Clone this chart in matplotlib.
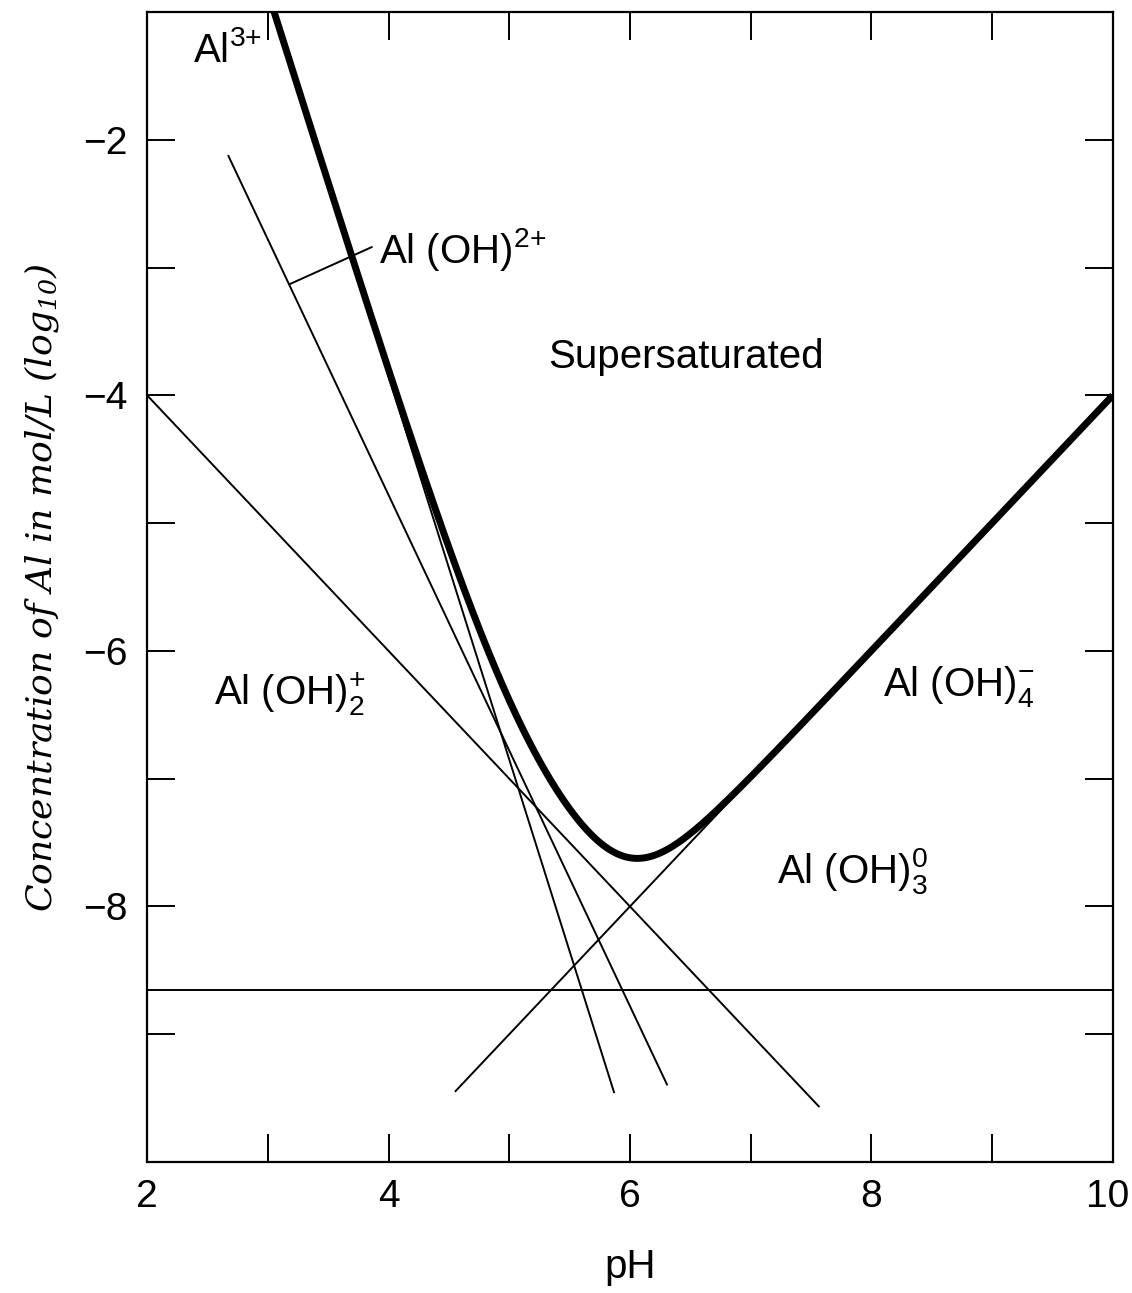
import matplotlib
matplotlib.use("Agg")
import matplotlib.pyplot as plt
import matplotlib.transforms as mtransforms
from matplotlib.ticker import FixedLocator, FuncFormatter
import numpy as np

plt.rcParams.update({
    "font.family": ["Liberation Sans", "DejaVu Sans"],
    "mathtext.default": "regular",
    "axes.linewidth": 1.6,
})

# species lines: log10[species] = slope * pH + intercept
species = ["Al3+", "Al(OH)2+", "Al(OH)2 +", "Al(OH)3 0", "Al(OH)4-"]
slopes = [-3.0, -2.0, -1.0, 0.0, 1.0]
intercepts = [8.15, 3.22, -2.0, -8.65, -14.0]
ph_start = [2.95, 2.67, 2.0, 2.0, 4.55]
ph_end = [5.87, 6.31, 7.57, 10.0, 10.0]

# labels of the regions
label_text = [r"Al$^{3{+}}$", r"Al (OH)$^{2{+}}$", "Supersaturated",
              r"Al (OH)$_2^{+}$", r"Al (OH)$_4^{-}$", r"Al (OH)$_3^0$"]
label_x = [2.38, 3.92, 5.32, 2.55, 8.1, 7.22]
label_y = [-1.3, -2.86, -3.7, -6.34, -6.28, -7.72]

x_ticks = list(range(2, 11))
y_ticks = list(range(-10, 0))

fig = plt.figure(figsize=(11.32, 12.93), dpi=100)
ax = fig.add_axes([0.130, 0.1013, 0.853, 0.8894])
ax.set_xlim(2, 10)
ax.set_ylim(-10, -1)

# thin species lines
for s, b, x0, x1 in zip(slopes, intercepts, ph_start, ph_end):
    xs = np.array([x0, x1])
    ax.plot(xs, s * xs + b, color="black", lw=1.4, solid_capstyle="butt")

# total dissolved Al = sum of all species (thick curve)
ph = np.linspace(2.9, 10.0, 900)
total = np.zeros_like(ph)
for s, b in zip(slopes, intercepts):
    total += 10.0 ** (s * ph + b)
ax.plot(ph, np.log10(total), color="black", lw=5.0, solid_capstyle="butt")

# leader line to the Al(OH)2+ label
ax.plot([3.18, 3.86], [-3.13, -2.84], color="black", lw=1.4)

for t, x, y in zip(label_text, label_x, label_y):
    ax.text(x, y, t, fontsize=29, ha="left", va="center", color="black")

ax.xaxis.set_major_locator(FixedLocator(x_ticks))
ax.yaxis.set_major_locator(FixedLocator(y_ticks))
ax.xaxis.set_major_formatter(FuncFormatter(lambda v, p: f"{int(v)}" if int(v) % 2 == 0 else ""))
ax.yaxis.set_major_formatter(FuncFormatter(
    lambda v, p: f"\u2212{abs(int(v))}" if int(v) % 2 == 0 and -10 < v < -1 else ""))
ax.tick_params(direction="in", length=20, width=1.4, top=True, right=True,
               labelsize=28, pad=12)
ax.tick_params(axis="y", pad=14)

# keep "10" inside the figure
lab = ax.xaxis.get_major_ticks()[-1].label1
lab.set_transform(lab.get_transform() +
                  mtransforms.ScaledTranslation(-4 / 72, 0, fig.dpi_scale_trans))

ax.set_xlabel("pH", fontsize=29, labelpad=24)
ax.set_ylabel(r"Concentration of Al in mol/L (log$_{10}$)", fontsize=26,
              family="DejaVu Serif", style="italic", labelpad=16)

fig.savefig("out.png", dpi=100, facecolor="white")
